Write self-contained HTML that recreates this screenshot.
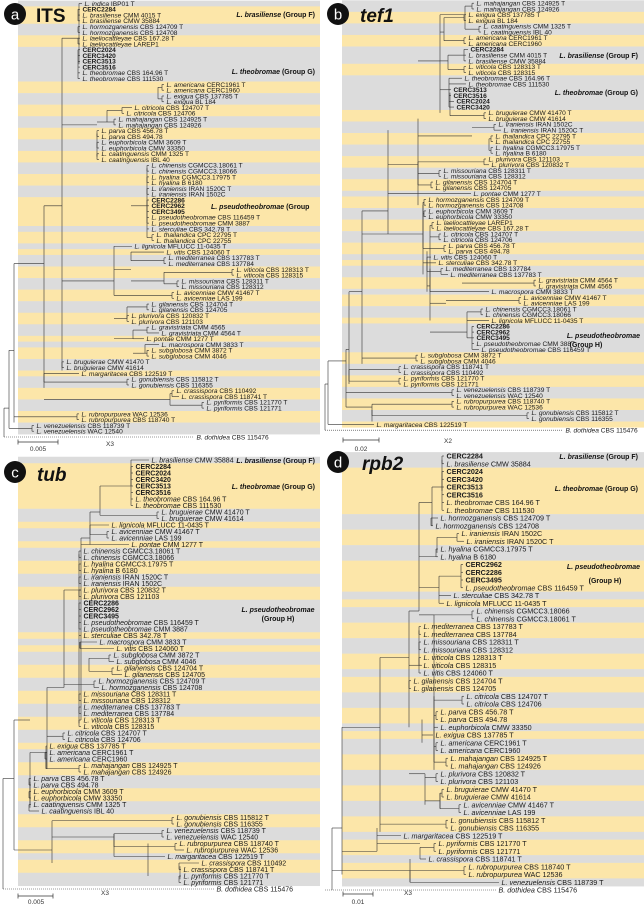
<!DOCTYPE html>
<html><head><meta charset="utf-8">
<style>
html,body{margin:0;padding:0;background:#fff;}
svg{display:block;font-family:"Liberation Sans",sans-serif;}
</style></head>
<body>
<svg id="fig" width="644" height="904" viewBox="0 0 644 904" xmlns="http://www.w3.org/2000/svg">
<g id="bands"></g><g id="tree"></g><g id="labels"></g>
<g id="deco">
 <circle cx="15" cy="14" r="11" fill="#111"/>
 <text x="15" y="19.5" font-size="15" fill="#fff" text-anchor="middle">a</text>
 <text x="36" y="22" font-size="19" font-weight="bold" fill="#111">ITS</text>
 <circle cx="338" cy="14" r="11" fill="#111"/>
 <text x="338" y="19.5" font-size="15" fill="#fff" text-anchor="middle">b</text>
 <text x="360" y="22" font-size="19" font-weight="bold" font-style="italic" fill="#111">tef1</text>
 <circle cx="15" cy="472" r="11" fill="#111"/>
 <text x="15" y="477.5" font-size="15" fill="#fff" text-anchor="middle">c</text>
 <text x="37" y="481" font-size="19" font-weight="bold" font-style="italic" fill="#111">tub</text>
 <circle cx="338" cy="462" r="11" fill="#111"/>
 <text x="338" y="467.5" font-size="15" fill="#fff" text-anchor="middle">d</text>
 <text x="362" y="470" font-size="19" font-weight="bold" font-style="italic" fill="#111">rpb2</text>

 <g stroke="#333" stroke-width="0.7"><line x1="18" y1="442" x2="58" y2="442"/><line x1="18" y1="439.5" x2="18" y2="444.5"/><line x1="58" y1="439.5" x2="58" y2="444.5"/></g>
 <text x="38" y="451" font-size="6.5" text-anchor="middle" fill="#333">0.005</text>
 <text x="110" y="446" font-size="6.5" text-anchor="middle" fill="#333">X3</text>
 <g stroke="#333" stroke-width="0.7"><line x1="343" y1="440" x2="379" y2="440"/><line x1="343" y1="437.5" x2="343" y2="442.5"/><line x1="379" y1="437.5" x2="379" y2="442.5"/></g>
 <text x="361" y="451" font-size="6.5" text-anchor="middle" fill="#333">0.02</text>
 <text x="448" y="443" font-size="6.5" text-anchor="middle" fill="#333">X2</text>
 <g stroke="#333" stroke-width="0.7"><line x1="18" y1="896" x2="53" y2="896"/><line x1="18" y1="893.5" x2="18" y2="898.5"/><line x1="53" y1="893.5" x2="53" y2="898.5"/></g>
 <text x="36" y="904" font-size="6.5" text-anchor="middle" fill="#333">0.005</text>
 <text x="105" y="895" font-size="6.5" text-anchor="middle" fill="#333">X3</text>
 <g stroke="#333" stroke-width="0.7"><line x1="343" y1="894" x2="373" y2="894"/><line x1="343" y1="891.5" x2="343" y2="896.5"/><line x1="373" y1="891.5" x2="373" y2="896.5"/></g>
 <text x="358" y="904" font-size="6.5" text-anchor="middle" fill="#333">0.01</text>
 <text x="408" y="895" font-size="6.5" text-anchor="middle" fill="#333">X3</text>

 <g font-size="7" font-weight="bold" fill="#111">
  <text x="315" y="17" text-anchor="end"><tspan font-style="italic">L. brasiliense</tspan> (Group F)</text>
  <text x="315" y="74" text-anchor="end"><tspan font-style="italic">L. theobromae</tspan> (Group G)</text>
  <text x="211" y="209"><tspan font-style="italic">L. pseudotheobromae</tspan> (Group</text>
  <text x="638" y="58" text-anchor="end"><tspan font-style="italic">L. brasiliense</tspan> (Group F)</text>
  <text x="638" y="95" text-anchor="end"><tspan font-style="italic">L. theobromae</tspan> (Group G)</text>
  <text x="640" y="338" text-anchor="end" font-style="italic">L. pseudotheobromae</text>
  <text x="586" y="347" text-anchor="middle">(Group H)</text>
  <text x="315" y="463" text-anchor="end"><tspan font-style="italic">L. brasiliense</tspan> (Group F)</text>
  <text x="315" y="489" text-anchor="end"><tspan font-style="italic">L. theobromae</tspan> (Group G)</text>
  <text x="278" y="612" text-anchor="middle" font-style="italic">L. pseudotheobromae</text>
  <text x="278" y="621" text-anchor="middle">(Group H)</text>
  <text x="638" y="459" text-anchor="end"><tspan font-style="italic">L. brasiliense</tspan> (Group F)</text>
  <text x="638" y="491" text-anchor="end"><tspan font-style="italic">L. theobromae</tspan> (Group G)</text>
  <text x="640" y="569" text-anchor="end" font-style="italic">L. pseudotheobromae</text>
  <text x="605" y="583" text-anchor="middle">(Group H)</text>
 </g>
</g>
</svg>
<script>
// rows: [tipX, parentX, label, groupKey?]
const rowsA = [
[83,79,"L. indica IBP01 T"],
[81,79,"CERC2284","brasiliense"],[81,79,"L. brasiliense CMM 4015 T"],[81,79,"L. brasiliense CMW 35884"],
[81,79,"L. hormozganensis CBS 124709 T"],[81,79,"L. hormozganensis CBS 124708"],
[81,79,"L. laeliocattleyae CBS 167.28 T"],[81,79,"L. laeliocattleyae LAREP1"],
[81,79,"CERC2024","theobromae"],[81,79,"CERC3420","theobromae"],[81,79,"CERC3513","theobromae"],[81,79,"CERC3516","theobromae"],
[81,79,"L. theobromae CBS 164.96 T"],[81,79,"L. theobromae CBS 111530"],
[165,158,"L. americana CERC1961 T"],[165,158,"L. americana CERC1960"],
[165,158,"L. exigua CBS 137785 T"],[165,158,"L. exigua BL 184"],
[133,107,"L. citricola CBS 124707 T"],[125,107,"L. citricola CBS 124706"],
[117,107,"L. mahajangan CBS 124925 T"],[117,107,"L. mahajangan CBS 124926"],
[100,97,"L. parva CBS 456.78 T"],[100,97,"L. parva CBS 494.78"],
[100,97,"L. euphorbicola CMM 3609 T"],[100,97,"L. euphorbicola CMW 33350"],
[100,97,"L. caatinguensis CMM 1325 T"],[100,97,"L. caatinguensis IBL 40"],
[150,147,"L. chinensis CGMCC3.18061 T"],[150,147,"L. chinensis CGMCC3.18066"],
[150,147,"L. hyalina CGMCC3.17975 T"],[150,147,"L. hyalina B 6180"],
[150,147,"L. iraniensis IRAN 1520C T"],[150,147,"L. iraniensis IRAN 1502C"],
[150,147,"CERC2286","pseudotheobromae"],[150,147,"CERC2962","pseudotheobromae"],[150,147,"CERC3495","pseudotheobromae"],
[150,147,"L. pseudotheobromae CBS 116459 T"],[150,147,"L. pseudotheobromae CMM 3887"],
[150,147,"L. sterculiae CBS 342.78 T"],
[155,147,"L. thailandica CPC 22795 T"],[155,147,"L. thailandica CPC 22755"],
[133,114,"L. lignicola MFLUCC 11-0435 T"],
[165,131,"L. vitis CBS 124060 T"],
[167,131,"L. mediterranea CBS 137783 T"],[167,131,"L. mediterranea CBS 137784"],
[235,164,"L. viticola CBS 128313 T"],[235,164,"L. viticola CBS 128315"],
[180,164,"L. missouriana CBS 128311 T"],[180,164,"L. missouriana CBS 128312"],
[175,114,"L. avicenniae CMW 41467 T"],[175,114,"L. avicenniae LAS 199"],
[150,127,"L. gilanensis CBS 124704 T"],[150,127,"L. gilanensis CBS 124705"],
[130,127,"L. plurivora CBS 120832 T"],[130,127,"L. plurivora CBS 121103"],
[150,133,"L. gravistriata CMM 4565"],[160,133,"L. gravistriata CMM 4564 T"],
[145,133,"L. pontae CMM 1277 T"],
[160,145,"L. macrospora CMM 3833 T"],
[150,145,"L. subglobosa CMM 3872 T"],[150,145,"L. subglobosa CMM 4046"],
[65,62,"L. bruguierae CMW 41470 T"],[65,62,"L. bruguierae CMW 41614"],
[80,44,"L. margaritacea CBS 122519 T"],
[130,44,"L. gonubiensis CBS 115812 T"],[130,44,"L. gonubiensis CBS 116355"],
[175,170,"L. crassispora CBS 110492"],[180,170,"L. crassispora CBS 118741 T"],
[205,170,"L. pyriformis CBS 121770 T"],[205,170,"L. pyriformis CBS 121771"],
[80,14,"L. rubropurpurea WAC 12536"],[80,14,"L. rubropurpurea CBS 118740 T"],
[35,9,"L. venezuelensis CBS 118739 T"],[35,9,"L. venezuelensis WAC 12540"],
[195,4,"B. dothidea CBS 115476"]
];
const rowsB = [
[153,143,"L. mahajangan CBS 124925 T"],[153,143,"L. mahajangan CBS 124926"],
[145,122,"L. exigua CBS 137785 T"],[145,122,"L. exigua BL 184"],
[160,143,"L. caatinguensis CMM 1325 T"],[160,143,"L. caatinguensis IBL 40"],
[145,122,"L. americana CERC1961 T"],[145,122,"L. americana CERC1960"],
[147,126,"CERC2284","brasiliense"],[145,126,"L. brasiliense CMM 4015 T"],[145,126,"L. brasiliense CMW 35884"],
[145,126,"L. viticola CBS 128313 T"],[145,126,"L. viticola CBS 128315"],
[141,128,"L. theobromae CBS 164.96 T"],[145,128,"L. theobromae CBS 111530"],
[130,118,"CERC3513","theobromae"],[130,118,"CERC3516","theobromae"],[133,118,"CERC2024","theobromae"],[133,118,"CERC3420","theobromae"],
[165,128,"L. bruguierae CMW 41470 T"],[165,128,"L. bruguierae CMW 41614"],
[175,150,"L. iraniensis IRAN 1502C"],[180,150,"L. iraniensis IRAN 1520C T"],
[172,167,"L. thailandica CPC 22795 T"],[172,167,"L. thailandica CPC 22755"],
[172,167,"L. hyalina CGMCC3.17975 T"],[172,167,"L. hyalina B 6180"],
[165,96,"L. plurivora CBS 121103"],[168,96,"L. plurivora CBS 120832 T"],
[120,96,"L. missouriana CBS 128311 T"],[120,96,"L. missouriana CBS 128312"],
[112,96,"L. gilanensis CBS 124704 T"],[112,96,"L. gilanensis CBS 124705"],
[150,66,"L. pontae CMM 1277 T"],
[105,101,"L. hormozganensis CBS 124709 T"],[105,101,"L. hormozganensis CBS 124708"],
[105,101,"L. euphorbicola CMM 3609 T"],[105,101,"L. euphorbicola CMW 33350"],
[113,108,"L. laeliocattleyae LAREP1"],[113,108,"L. laeliocattleyae CBS 167.28 T"],
[120,108,"L. citricola CBS 124707 T"],[120,108,"L. citricola CBS 124706"],
[125,101,"L. parva CBS 456.78 T"],[125,101,"L. parva CBS 494.78"],
[110,105,"L. vitis CBS 124060 T"],
[115,105,"L. sterculiae CBS 342.78 T"],
[122,105,"L. mediterranea CBS 137784"],[127,105,"L. mediterranea CBS 137783 T"],
[215,140,"L. gravistriata CMM 4564 T"],[215,140,"L. gravistriata CMM 4565"],
[168,108,"L. macrospora CMM 3833 T"],
[200,124,"L. avicenniae CMW 41467 T"],[200,124,"L. avicenniae LAS 199"],
[162,145,"L. chinensis CGMCC3.18061 T"],[162,145,"L. chinensis CGMCC3.18066"],
[168,145,"L. lignicola MFLUCC 11-0435 T"],
[153,145,"CERC2286","pseudotheobromae"],[153,145,"CERC2962","pseudotheobromae"],[153,145,"CERC3495","pseudotheobromae"],
[153,145,"L. pseudotheobromae CMM 3887"],[158,145,"L. pseudotheobromae CBS 116459 T"],
[97,40,"L. subglobosa CMM 3872 T"],[97,40,"L. subglobosa CMM 4046"],
[80,27,"L. crassispora CBS 118741 T"],[80,27,"L. crassispora CBS 110492"],
[80,27,"L. pyriformis CBS 121770 T"],[80,27,"L. pyriformis CBS 121771"],
[133,24,"L. venezuelensis CBS 118739 T"],[133,24,"L. venezuelensis WAC 12540"],
[133,50,"L. rubropurpurea CBS 118740 T"],[133,50,"L. rubropurpurea WAC 12536"],
[208,50,"L. gonubiensis CBS 115812 T"],[208,50,"L. gonubiensis CBS 116355"],
[53,6,"L. margaritacea CBS 122519 T"],
[242,3,"B. dothidea CBS 115476"]
];
const rowsC = [
[150,131,"L. brasiliense CMW 35884"],
[134,131,"CERC2284","theobromae"],[134,131,"CERC2024","theobromae"],[134,131,"CERC3420","theobromae"],[134,131,"CERC3513","theobromae"],[134,131,"CERC3516","theobromae"],
[134,131,"L. theobromae CBS 164.96 T"],[134,131,"L. theobromae CBS 111530"],
[160,100,"L. bruguierae CMW 41470 T"],[160,100,"L. bruguierae CMW 41614"],
[110,90,"L. lignicola MFLUCC 11-0435 T"],
[110,90,"L. avicenniae CMW 41467 T"],[110,90,"L. avicenniae LAS 199"],
[130,81,"L. pontae CMM 1277 T"],
[82,79,"L. chinensis CGMCC3.18061 T"],[82,79,"L. chinensis CGMCC3.18066"],
[82,79,"L. hyalina CGMCC3.17975 T"],[82,79,"L. hyalina B 6180"],
[82,79,"L. iraniensis IRAN 1520C T"],[82,79,"L. iraniensis IRAN 1502C"],
[82,79,"L. plurivora CBS 120832 T"],[82,79,"L. plurivora CBS 121103"],
[82,79,"CERC2286","pseudotheobromae"],[82,79,"CERC2962","pseudotheobromae"],[82,79,"CERC3495","pseudotheobromae"],
[82,79,"L. pseudotheobromae CBS 116459 T"],[82,79,"L. pseudotheobromae CMM 3887"],
[82,79,"L. sterculiae CBS 342.78 T"],
[98,80,"L. macrospora CMM 3833 T"],
[115,80,"L. vitis CBS 124060 T"],
[112,89,"L. subglobosa CMM 3872 T"],[115,89,"L. subglobosa CMM 4046"],
[115,89,"L. gilanensis CBS 124704 T"],[123,89,"L. gilanensis CBS 124705"],
[97,64,"L. hormozganensis CBS 124709 T"],[100,64,"L. hormozganensis CBS 124708"],
[82,79,"L. missouriana CBS 128311 T"],[82,79,"L. missouriana CBS 128312"],
[82,79,"L. mediterranea CBS 137783 T"],[82,79,"L. mediterranea CBS 137784"],
[82,79,"L. viticola CBS 128313 T"],[82,79,"L. viticola CBS 128315"],
[66,47,"L. citricola CBS 124707 T"],[66,47,"L. citricola CBS 124706"],
[48,46,"L. exigua CBS 137785 T"],
[48,46,"L. americana CERC1961 T"],[48,46,"L. americana CERC1960"],
[82,46,"L. mahajangan CBS 124925 T"],[82,46,"L. mahajangan CBS 124926"],
[32,30,"L. parva CBS 456.78 T"],[32,30,"L. parva CBS 494.78"],
[32,30,"L. euphorbicola CMM 3609 T"],[32,30,"L. euphorbicola CMW 33350"],
[32,30,"L. caatinguensis CMM 1325 T"],[40,30,"L. caatinguensis IBL 40"],
[175,52,"L. gonubiensis CBS 115812 T"],[175,52,"L. gonubiensis CBS 116355"],
[165,114,"L. venezuelensis CBS 118739 T"],[165,114,"L. venezuelensis WAC 12540"],
[178,114,"L. rubropurpurea CBS 118740 T"],[185,114,"L. rubropurpurea WAC 12536"],
[166,148,"L. margaritacea CBS 122519 T"],
[200,180,"L. crassispora CBS 110492"],[182,180,"L. crassispora CBS 118741 T"],
[182,180,"L. pyriformis CBS 121770 T"],[182,180,"L. pyriformis CBS 121771"],
[215,3,"B. dothidea CBS 115476"]
];
const rowsD = [
[123,120,"CERC2284","brasiliense"],[123,120,"L. brasiliense CMW 35884"],
[123,120,"CERC2024","theobromae"],[123,120,"CERC3420","theobromae"],[123,120,"CERC3513","theobromae"],[123,120,"CERC3516","theobromae"],
[123,120,"L. theobromae CBS 164.96 T"],[123,120,"L. theobromae CBS 111530"],
[117,110,"L. hormozganensis CBS 124709 T"],[112,110,"L. hormozganensis CBS 124708"],
[138,115,"L. iraniensis IRAN 1502C"],[143,115,"L. iraniensis IRAN 1520C T"],
[117,115,"L. hyalina CGMCC3.17975 T"],[117,115,"L. hyalina B 6180"],
[142,117,"CERC2962","pseudotheobromae"],[142,117,"CERC2286","pseudotheobromae"],[142,117,"CERC3495","pseudotheobromae"],
[142,117,"L. pseudotheobromae CBS 116459 T"],
[130,117,"L. sterculiae CBS 342.78 T"],
[123,117,"L. lignicola MFLUCC 11-0435 T"],
[153,112,"L. chinensis CGMCC3.18066"],[153,112,"L. chinensis CGMCC3.18061 T"],
[100,97,"L. mediterranea CBS 137783 T"],[100,97,"L. mediterranea CBS 137784"],
[100,97,"L. missouriana CBS 128311 T"],[100,97,"L. missouriana CBS 128312"],
[100,97,"L. viticola CBS 128313 T"],[100,97,"L. viticola CBS 128315"],
[100,97,"L. vitis CBS 124060 T"],
[90,87,"L. gilanensis CBS 124704 T"],[90,87,"L. gilanensis CBS 124705"],
[143,112,"L. citricola CBS 124707 T"],[143,112,"L. citricola CBS 124706"],
[117,112,"L. parva CBS 456.78 T"],[117,112,"L. parva CBS 494.78"],
[117,112,"L. euphorbicola CMW 33350"],
[112,100,"L. exigua CBS 137785 T"],
[117,112,"L. americana CERC1961 T"],[117,112,"L. americana CERC1960"],
[127,112,"L. mahajangan CBS 124925 T"],[127,112,"L. mahajangan CBS 124926"],
[117,103,"L. plurivora CBS 120832 T"],[117,103,"L. plurivora CBS 121103"],
[123,118,"L. bruguierae CMW 41470 T"],[123,118,"L. bruguierae CMW 41614"],
[140,118,"L. avicenniae CMW 41467 T"],[140,118,"L. avicenniae LAS 199"],
[127,58,"L. gonubiensis CBS 115812 T"],[127,58,"L. gonubiensis CBS 116355"],
[80,55,"L. margaritacea CBS 122519 T"],
[115,98,"L. pyriformis CBS 121770 T"],[115,98,"L. pyriformis CBS 121771"],
[105,98,"L. crassispora CBS 118741 T"],
[145,88,"L. rubropurpurea CBS 118740 T"],[145,88,"L. rubropurpurea WAC 12536"],
[178,88,"L. venezuelensis CBS 118739 T"],
[175,3,"B. dothidea CBS 115476"]
];
const backA = {v:[[62,6,63.5],[44,35,66.5],[14,45,72.5],[9,60,73.5],[4,70,75]],
  h:[[62,79,6],[62,97,21],[97,107,20.5],[62,114,48],[114,131,46],[131,147,35],[131,164,48],[114,127,54.5],[114,133,58],[133,145,60.5],[44,62,35],[44,170,68.5],[14,44,45],[9,14,60],[4,9,70]]};
const backB = {v:[[118,2,19],[96,20,35],[66,22,40],[40,36,62.5],[27,50,66],[24,60,70],[6,62,73],[3,66,74],[50,70.5,72.5],[101,35,47],[105,43,50],[108,46,55]],
  h:[[118,143,2],[118,122,5],[118,126,10],[118,128,15],[96,118,10],[96,150,23],[66,96,28],[40,66,36],[40,101,40],[101,105,45],[105,108,49],[108,124,52],[108,145,57],[27,40,50],[24,27,60],[24,50,70],[6,24,62],[3,6,66]]};
const backC = {v:[[100,4,8.5],[90,8,13],[81,12,40],[64,20,35],[47,35,47.5],[46,45,47.5],[30,45,53],[14,40,60],[3,49,66],[52,55.5,62],[114,57.5,61],[148,59,64],[80,28,29]],
  h:[[100,131,4],[90,100,8],[81,90,12],[64,81,20],[47,64,35],[30,47,45],[14,30,40],[14,52,60],[52,114,58],[114,148,61],[3,14,49]]};
const backD = {v:[[110,4,9],[97,6,20],[87,20,35],[112,31,40.5],[100,34,37],[103,41,45],[118,43.5,45.5],[58,26,48.5],[55,48,51],[88,52,55],[20,35,54],[10,48,56]],
  h:[[110,120,4],[97,110,6],[97,115,13],[97,117,17],[97,112,20.5],[87,97,20],[87,100,27],[87,103,41],[103,118,44.5],[58,87,26],[20,58,35],[20,55,51],[55,98,50],[10,20,48],[10,88,53.5]]};

const panels = [
 {id:"a",rows:rowsA,back:backA,left:0,right:320,y0:3.5,rh:5.78,fs:6.6,bandL:18},
 {id:"b",rows:rowsB,back:backB,left:322,right:644,y0:3.2,rh:5.77,fs:6.6,bandL:20},
 {id:"c",rows:rowsC,back:backC,left:0,right:320,y0:460,rh:6.5,fs:7.0,bandL:18},
 {id:"d",rows:rowsD,back:backD,left:322,right:644,y0:456,rh:7.75,fs:7.2,bandL:20}
];
const NS="http://www.w3.org/2000/svg";
const gB=document.getElementById("bands"),gT=document.getElementById("tree"),gL=document.getElementById("labels");
function mk(tag,attrs,parent){const e=document.createElementNS(NS,tag);for(const k in attrs)e.setAttribute(k,attrs[k]);parent.appendChild(e);return e;}
function keyOf(r){if(r[3])return r[3];const p=r[2].split(" ");return p[0]==="L."||p[0]==="B."?p[1]:r[2];}
function line(x1,y1,x2,y2,name,dash){
 const l=mk("line",{x1:x1,y1:y1,x2:x2,y2:y2,stroke:"#333","stroke-width":0.6},gT);
 if(dash)l.setAttribute("stroke-dasharray","1,1");
 
 
}
panels.forEach(P=>{
 const Y=i=>P.y0+i*P.rh, X=x=>P.left+x;
 const groups=[];let cur=null;
 P.rows.forEach((r,i)=>{const k=keyOf(r);if(!cur||cur.key!==k){cur={key:k,start:i,end:i,rows:[r]};groups.push(cur);}else{cur.end=i;cur.rows.push(r);}});
 groups.forEach((g,gi)=>{
  const isOut=g.rows[0][2].startsWith("B.");
  if(!isOut){
   const b=mk("rect",{x:X(P.bandL),y:Y(g.start)-P.rh/2,width:P.right-X(P.bandL),height:(g.end-g.start+1)*P.rh+0.3,fill:gi%2===0?"#dcdcdc":"#fce6a9"},gB);
   
   
  }
  const minTip=Math.min(...g.rows.map(r=>r[0]));const par=g.rows[0][1];
  if(g.rows.length>1){
   const bx=minTip-3;
   line(X(bx),Y(g.start),X(bx),Y(g.end),'clade-bracket-'+P.id);
   g.rows.forEach((r,j)=>line(X(bx),Y(g.start+j),X(r[0]-1),Y(g.start+j),'branch-'+P.id));
   g.mid=(g.start+g.end)/2;
   if(par<bx)line(X(par),Y(g.mid),X(bx),Y(g.mid),'stem-'+P.id);
  }else{
   g.mid=g.start;
   line(X(par),Y(g.start),X(g.rows[0][0]-1),Y(g.start),'branch-'+P.id,isOut);
  }
 });
 const byPar={};groups.forEach(g=>{const p=g.rows[0][1];(byPar[p]=byPar[p]||[]).push(g.mid);});
 for(const p in byPar){const m=byPar[p];if(m.length>1)line(X(+p),Y(Math.min(...m)),X(+p),Y(Math.max(...m)),'node-'+P.id);}
 P.back.v.forEach(v=>line(X(v[0]),Y(v[1]),X(v[0]),Y(v[2]),'backbone-'+P.id));
 P.back.h.forEach(h=>line(X(h[0]),Y(h[2]),X(h[1]),Y(h[2]),'backbone-'+P.id));
 P.rows.forEach((r,i)=>{
  const t=mk("text",{x:X(r[0]+1.5),y:Y(i)+P.fs*0.36,"font-size":P.fs,fill:"#1a1a1a"},gL);
  
  
  const s=r[2];
  if(s.startsWith("CERC")){t.setAttribute("font-weight","bold");t.textContent=s;}
  else{const p=s.split(" ");const it=mk("tspan",{"font-style":"italic"},t);it.textContent=p[0]+" "+p[1];
   const rest=mk("tspan",{},t);rest.textContent=" "+p.slice(2).join(" ");}
 });
});
</script>
</body></html>
